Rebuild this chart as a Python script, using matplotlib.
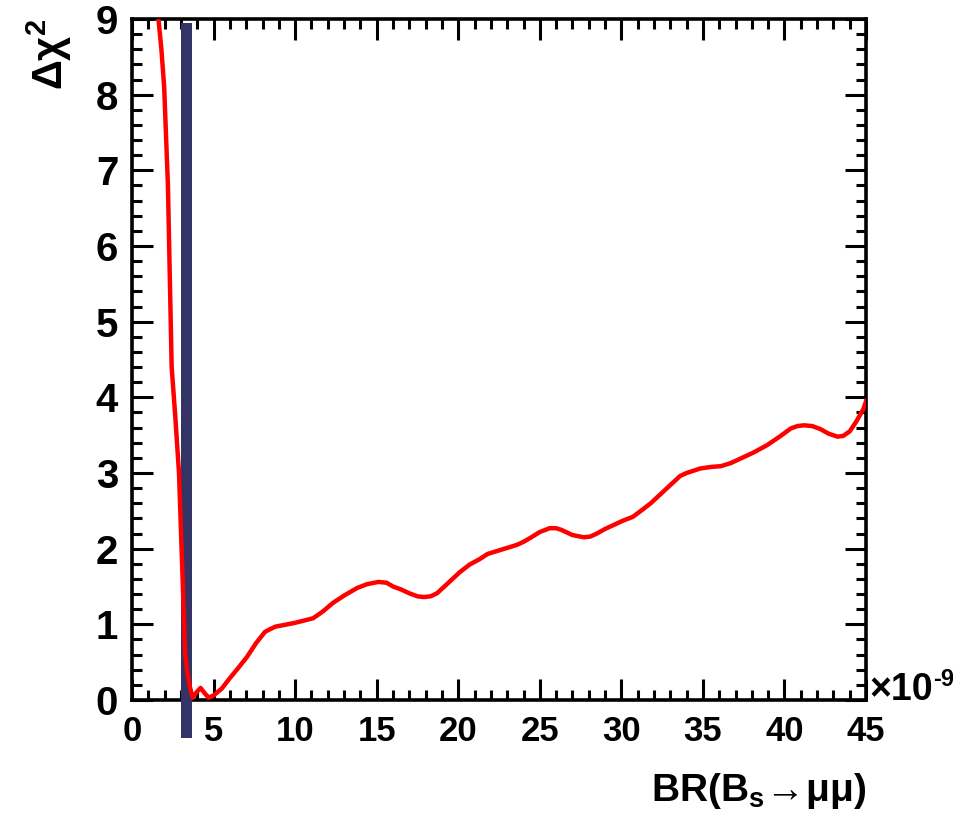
import matplotlib
matplotlib.use('Agg')
import matplotlib.pyplot as plt
from matplotlib.ticker import MultipleLocator

# ROOT-like bold helvetica
fam = 'Liberation Sans'
plt.rcParams['font.family'] = [fam, 'DejaVu Sans']
plt.rcParams['font.weight'] = 'bold'
plt.rcParams['mathtext.fontset'] = 'custom'
plt.rcParams['mathtext.rm'] = fam + ':bold'
plt.rcParams['mathtext.it'] = fam + ':bold'
plt.rcParams['mathtext.bf'] = fam + ':bold'

# delta chi2 scan vs BR(Bs->mumu) in units of 1e-9
br = [1.55, 1.62, 1.8, 1.97, 2.2, 2.43, 2.65, 2.88, 3.1, 3.25, 3.39, 3.55, 3.72,
      3.95, 4.2, 4.45, 4.7, 5.0, 5.5, 6.0, 6.5, 7.05, 7.6, 8.15, 8.5, 8.8, 9.3,
      10.0, 11.1, 11.7, 12.3, 13.0, 13.8, 14.4, 15.1, 15.6, 16.0, 16.5, 17.0,
      17.5, 17.9, 18.3, 18.7, 19.4, 20.1, 20.7, 21.3, 21.8, 22.4, 23.0, 23.6,
      24.0, 24.4, 25.0, 25.6, 26.0, 26.3, 27.0, 27.7, 28.1, 28.5, 29.0, 29.5,
      30.1, 30.7, 31.2, 31.8, 32.5, 33.2, 33.6, 34.0, 34.85, 35.5, 36.1, 36.7,
      37.3, 38.1, 38.95, 39.7, 40.4, 40.8, 41.2, 41.7, 42.2, 42.7, 43.25, 43.6,
      44.0, 44.4, 44.85, 45.0]
dchi2 = [9.5, 9.0, 8.6, 8.1, 6.8, 4.4, 3.75, 3.0, 1.6, 0.62, 0.36, 0.17, 0.03,
         0.1, 0.16, 0.09, 0.03, 0.06, 0.15, 0.29, 0.42, 0.57, 0.75, 0.9, 0.94, 0.97,
         0.99, 1.02, 1.08, 1.17, 1.28, 1.38, 1.48, 1.53, 1.56, 1.55, 1.5, 1.46,
         1.41, 1.37, 1.36, 1.37, 1.41, 1.55, 1.69, 1.79, 1.86, 1.93, 1.97, 2.01,
         2.05, 2.09, 2.14, 2.22, 2.27, 2.27, 2.25, 2.18, 2.15, 2.16, 2.2, 2.26,
         2.31, 2.37, 2.42, 2.5, 2.6, 2.74, 2.88, 2.96, 3.0, 3.06, 3.08, 3.09, 3.13,
         3.19, 3.27, 3.37, 3.48, 3.59, 3.62, 3.63, 3.62, 3.58, 3.52, 3.48, 3.49,
         3.55, 3.68, 3.85, 3.95]
# SM prediction band
sm_lo, sm_hi = 3.0, 3.65

fig = plt.figure(figsize=(9.54, 8.21), dpi=100)
ax = fig.add_axes([0.1384, 0.1474, 0.9078 - 0.1384, 0.9769 - 0.1474])

ax.axvspan(sm_lo, sm_hi, ymin=-0.056, ymax=0.994, color='#333366', lw=0,
           clip_on=False, zorder=2.6)
ax.plot(br, dchi2, color='red', lw=3.2, zorder=3, solid_joinstyle='round')

ax.set_xlim(0, 45)
ax.set_ylim(0, 9)
ax.xaxis.set_major_locator(MultipleLocator(5))
ax.xaxis.set_minor_locator(MultipleLocator(1))
ax.yaxis.set_major_locator(MultipleLocator(1))
ax.yaxis.set_minor_locator(MultipleLocator(0.2))
ax.tick_params(which='both', direction='in', top=True, right=True, width=2.2)
ax.tick_params(which='major', length=15)
ax.tick_params(which='minor', length=7.5)
ax.tick_params(axis='x', labelsize=25, pad=11)
ax.tick_params(axis='y', labelsize=29, pad=10)
for s in ax.spines.values():
    s.set_linewidth(2.6)

fig.text(0.9078, 0.012, r'$\mathrm{BR(B_{s}\!\rightarrow\!\mu\mu)}$', fontsize=28,
         ha='right', va='bottom')
fig.text(0.026, 0.977, r'$\mathrm{\Delta\chi^{2}}$', fontsize=30, rotation=90,
         ha='left', va='top')
# axis exponent
t = fig.text(0.911, 0.1474, '\u00d710', fontsize=27, ha='left', va='baseline')
ax.annotate('-9', xy=(1.0, 1.12), xycoords=t, fontsize=17, ha='left', va='top',
            annotation_clip=False)

fig.savefig('out.png', dpi=100)
